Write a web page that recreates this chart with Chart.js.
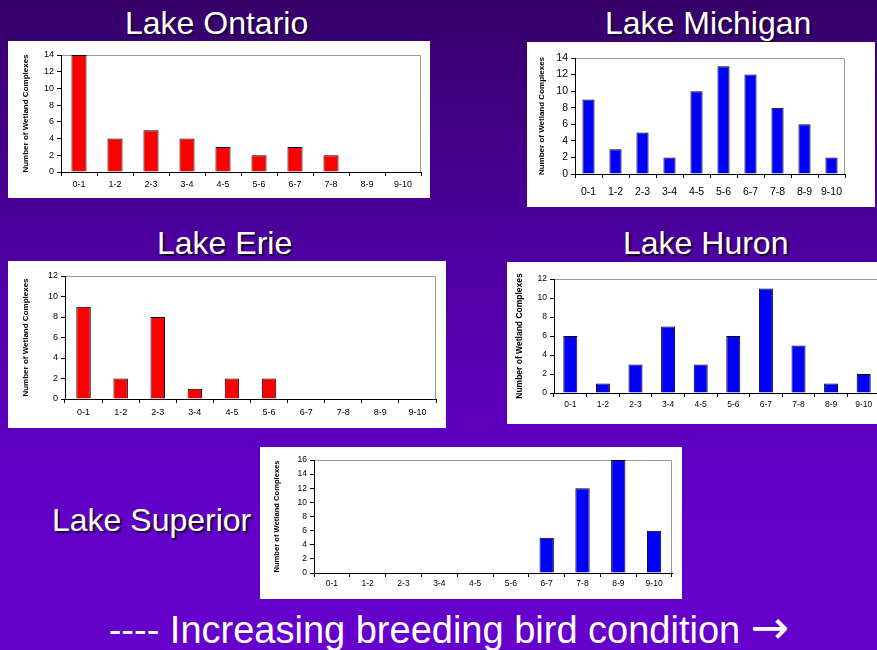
<!DOCTYPE html>
<html>
<head>
<meta charset="utf-8">
<script src="https://cdn.jsdelivr.net/npm/chart.js@4"></script>
<style>
  html, body {
    margin: 0;
    padding: 0;
    width: 877px;
    height: 650px;
    overflow: hidden;
    font-family: Arial, "Liberation Sans", sans-serif;
  }
  body {
    position: relative;
    background: linear-gradient(#360069 0%, #4e009f 38%, #6000c4 72%, #6600cc 100%);
  }
  .panel {
    position: absolute;
    background: #fff;
  }
  .title {
    position: absolute;
    color: #fff;
    font-size: 32px;
    line-height: 32px;
    white-space: nowrap;
    text-shadow: 2px 2px 1px #1a0036;
  }
  .footer {
    position: absolute;
    left: 0;
    width: 898px;
    top: 607px;
    text-align: center;
    color: #fff;
    font-size: 38px;
    line-height: 40px;
    white-space: nowrap;
  }
  .arrow {
    font-family: "DejaVu Sans", sans-serif;
    font-size: 46px;
    line-height: 40px;
  }
</style>
</head>
<body>

<div class="title" style="left:125px; top:7px;">Lake Ontario</div>
<div class="title" style="left:605px; top:7px;">Lake Michigan</div>
<div class="title" style="left:157px; top:227px;">Lake Erie</div>
<div class="title" style="left:623px; top:227px;">Lake Huron</div>
<div class="title" style="left:52px; top:504px;">Lake Superior</div>

<div class="panel" style="left:8px; top:41px; width:422px; height:157px;"><canvas id="ontario" width="422" height="157"></canvas></div>
<div class="panel" style="left:527px; top:42px; width:348px; height:165px;"><canvas id="michigan" width="348" height="165"></canvas></div>
<div class="panel" style="left:8px; top:261px; width:438px; height:167px;"><canvas id="erie" width="438" height="167"></canvas></div>
<div class="panel" style="left:507px; top:262px; width:380px; height:162px;"><canvas id="huron" width="380" height="162"></canvas></div>
<div class="panel" style="left:260px; top:447px; width:422px; height:152px;"><canvas id="superior" width="422" height="152"></canvas></div>

<div class="footer">---- Increasing breeding bird condition <span class="arrow">&#8594;</span></div>

<script>
// score classes on the x axis
const categories = ['0-1', '1-2', '2-3', '3-4', '4-5', '5-6', '6-7', '7-8', '8-9', '9-10'];

// number of wetland complexes per class
const ontarioValues = [14, 4, 5, 4, 3, 2, 3, 2, 0, 0];
const michiganValues = [9, 3, 5, 2, 10, 13, 12, 8, 6, 2];
const erieValues = [9, 2, 8, 1, 2, 2, 0, 0, 0, 0];
const huronValues = [6, 1, 3, 7, 3, 6, 11, 5, 1, 2];
const superiorValues = [0, 0, 0, 0, 0, 0, 5, 12, 16, 6];

const yTitle = 'Number of Wetland Complexes';
const fontFamily = 'Arial, "Liberation Sans", sans-serif';

// grey frame on top / right of the plot area
const framePlugin = {
  id: 'frame',
  beforeDraw(chart) {
    const a = chart.chartArea;
    const ctx = chart.ctx;
    ctx.save();
    ctx.strokeStyle = '#999999';
    ctx.lineWidth = 1;
    ctx.beginPath();
    ctx.moveTo(a.left, a.top + 0.5);
    ctx.lineTo(a.right - 0.5, a.top + 0.5);
    ctx.lineTo(a.right - 0.5, a.bottom);
    ctx.stroke();
    ctx.restore();
  },
};

// p: plot area inside the panel, in px
const makeChart = (id, values, color, max, p) => {
  const canvas = document.getElementById(id);
  new Chart(canvas, {
    type: 'bar',
    data: {
      labels: categories,
      datasets: [
        {
          data: values,
          backgroundColor: color,
          borderColor: '#000000',
          borderWidth: 1,
          borderSkipped: 'bottom',
          barPercentage: p.bar,
          categoryPercentage: 1,
        },
      ],
    },
    options: {
      responsive: false,
      animation: false,
      plugins: {
        legend: { display: false },
        tooltip: { enabled: false },
      },
      layout: {
        padding: { left: 0, top: p.top, right: p.right, bottom: 0 },
      },
      scales: {
        x: {
          afterFit: (scale) => { scale.height = p.xh; },
          grid: {
            display: true,
            drawOnChartArea: false,
            drawTicks: true,
            tickLength: 4,
            color: '#000000',
            offset: true,
          },
          border: { display: true, color: '#000000', width: 1 },
          ticks: {
            color: '#000000',
            padding: p.xpad,
            maxRotation: 0,
            autoSkip: false,
            font: { family: fontFamily, size: p.fs },
          },
        },
        y: {
          min: 0,
          max: max,
          afterFit: (scale) => { scale.width = p.yw; },
          grid: {
            display: true,
            drawOnChartArea: false,
            drawTicks: true,
            tickLength: 4,
            color: '#000000',
          },
          border: { display: true, color: '#000000', width: 1 },
          ticks: {
            stepSize: 2,
            color: '#000000',
            padding: 3,
            font: { family: fontFamily, size: p.fs },
          },
          title: {
            display: true,
            text: yTitle,
            color: '#000000',
            padding: { top: p.tpad, bottom: 0 },
            font: { family: fontFamily, size: p.tfs, weight: 'bold' },
          },
        },
      },
    },
    plugins: [framePlugin],
  });
};

makeChart('ontario', ontarioValues, '#ff0000', 14,
  { top: 14, right: 9, yw: 53, xh: 26, xpad: 3, fs: 9, tfs: 8, tpad: 13, bar: 0.42 });
makeChart('michigan', michiganValues, '#0000ff', 14,
  { top: 16, right: 30, yw: 48, xh: 33, xpad: 8, fs: 10.5, tfs: 8, tpad: 10, bar: 0.45 });
makeChart('erie', erieValues, '#ff0000', 12,
  { top: 15, right: 10, yw: 57, xh: 29, xpad: 4, fs: 9, tfs: 8, tpad: 13, bar: 0.39 });
makeChart('huron', huronValues, '#0000ff', 12,
  { top: 17, right: 7, yw: 47, xh: 31, xpad: 3, fs: 8.5, tfs: 8.5, tpad: 8, bar: 0.43 });
makeChart('superior', superiorValues, '#0000ff', 16,
  { top: 13, right: 10, yw: 54, xh: 26, xpad: 2, fs: 8.5, tfs: 7.6, tpad: 12, bar: 0.4 });
</script>
</body>
</html>
